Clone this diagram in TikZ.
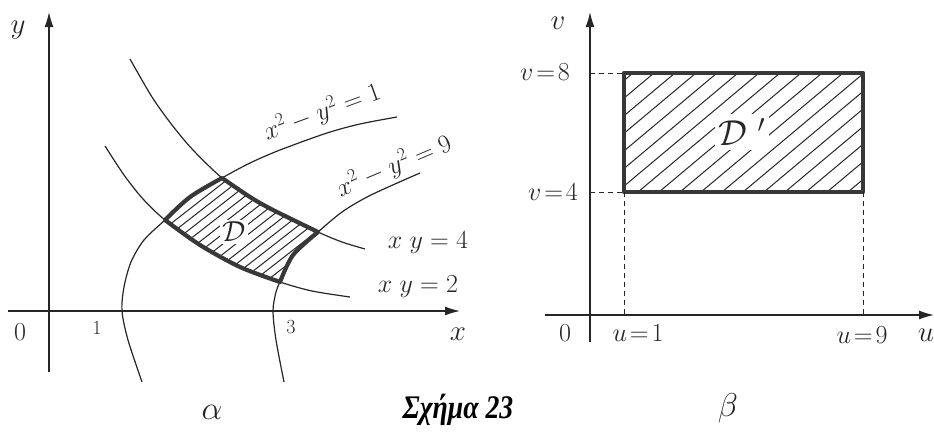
\RequirePackage{fix-cm}
\documentclass[tikz,border=0pt]{standalone}
\usepackage{fontspec}
\newfontfamily\capfont{Liberation Serif}
\usetikzlibrary{arrows.meta}
\begin{document}
\begin{tikzpicture}[x=1pt,y=-1pt,
  ink/.style={draw=black!85},
  axis/.style={ink, line width=1.4pt, -{Latex[length=15pt,width=9pt]}},
  curve/.style={ink, line width=1.2pt},
  bound/.style={draw=black!78, line width=4.2pt, line join=round},
  hatch/.style={ink, line width=1pt},
  dashline/.style={ink, line width=1pt, dash pattern=on 5pt off 4pt},
  lbl/.style={font=\fontsize{26}{30}\selectfont, text=black!85, inner sep=0pt},
  big/.style={font=\fontsize{29}{33}\selectfont, text=black!85, inner sep=0pt},
  greek/.style={font=\fontsize{33}{37}\selectfont, text=black!85, inner sep=0pt},
  small/.style={font=\fontsize{20}{24}\selectfont, text=black!85, inner sep=0pt},
  captext/.style={font=\capfont\bfseries\itshape\fontsize{33}{37}\selectfont, xscale=0.84, inner sep=0pt},
]
\useasboundingbox (0,0) rectangle (934,434);

% ---------------- left figure ----------------
\coordinate (xs) at (8,311);
\coordinate (xe) at (460,311);
\coordinate (ys) at (49,372);
\coordinate (ye) at (49,12);
\draw[axis] (xs) -- (xe);
\draw[axis] (ys) -- (ye);

% hatching of D
\begin{scope}
\clip plot[smooth] coordinates {(165,220) (190,197) (222,178)}
   -- plot[smooth] coordinates {(222,178) (250,197) (273,210) (318,232)}
   -- plot[smooth] coordinates {(318,232) (293,255) (280,282)}
   -- plot[smooth] coordinates {(280,282) (240,267) (200,245) (165,220)} -- cycle;
\foreach \i in {0,...,26} \draw[hatch] ({60+\i*13},300) -- ++(250,-195);
\end{scope}

% curves
\draw[curve] plot[smooth] coordinates {(142,382) (128,340) (122,311) (124,287) (131,262) (144,240) (165,220) (190,197) (222,178) (250,163) (280,150) (327,133) (360,124) (397,117)};
\draw[curve] plot[smooth] coordinates {(284,382) (276,340) (273,311) (276,292) (280,282) (293,255) (318,232) (342,212) (367,197) (395,184) (420,173)};
\draw[curve] plot[smooth] coordinates {(130,59) (152,97) (172,125) (193,150) (222,178) (250,197) (273,210) (318,232) (342,242) (365,249)};
\draw[curve] plot[smooth] coordinates {(105,146) (124,175) (143,199) (165,220) (200,245) (240,267) (280,282) (312,291) (350,297)};

% boundary of D
\draw[bound] plot[smooth] coordinates {(165,220) (190,197) (222,178)}
   -- plot[smooth] coordinates {(222,178) (250,197) (273,210) (318,232)}
   -- plot[smooth] coordinates {(318,232) (293,255) (280,282)}
   -- plot[smooth] coordinates {(280,282) (240,267) (200,245) (165,220)} -- cycle;

\node[big, fill=white, inner sep=2pt] (D) at (234,232) {$\mathcal{D}$};
\node[big] (ylab) at (18,30) {$y$};
\node[big] (xlab) at (458,334) {$x$};
\node[lbl] (O1) at (20,332) {$0$};
\node[small] (one) at (97,328) {$1$};
\node[small] (three) at (291,327) {$3$};
\node[lbl, rotate=20] (h1) at (322,112) {$x^2 - y^2 = 1$};
\node[lbl, rotate=23] (h9) at (394,166) {$x^2 - y^2 = 9$};
\node[lbl] (xy4) at (428,243) {$x\;y = 4$};
\node[lbl] (xy2) at (418,287) {$x\;y = 2$};

% ---------------- right figure ----------------
\coordinate (us) at (545,315);
\coordinate (ue) at (934,315);
\coordinate (vs) at (590,342);
\coordinate (ve) at (590,12);
\draw[axis] (us) -- (ue);
\draw[axis] (vs) -- (ve);

\coordinate (A) at (624,192);
\coordinate (B) at (863,192);
\coordinate (C) at (863,73);
\coordinate (E) at (624,73);
\begin{scope}
\clip (A) rectangle (C);
\foreach \i in {0,...,20} \draw[hatch] ({470+\i*21},192) -- ++(142,-119);
\end{scope}
\draw[bound] (A) -- (B) -- (C) -- (E) -- cycle;

\coordinate (v8) at (590,73);
\coordinate (v4) at (590,192);
\coordinate (u1) at (624,315);
\coordinate (u9) at (863,315);
\draw[dashline] (v8) -- (E);
\draw[dashline] (v4) -- (A);
\draw[dashline] (A) -- (u1);
\draw[dashline] (B) -- (u9);

\node[lbl, fill=white, inner sep=4pt] (Dp) at (742,132) {\fontsize{36}{40}\selectfont$\mathcal{D}\;'$};
\node[big] (vlab) at (558,23) {$v$};
\node[lbl] (v8l) at (545,72) {$v\!=\!8$};
\node[lbl] (v4l) at (553,192) {$v\!=\!4$};
\node[lbl] (O2) at (565,333) {$0$};
\node[lbl] (u1l) at (638,333) {$u\!=\!1$};
\node[lbl] (u9l) at (862,335) {$u\!=\!9$};
\node[big] (ulab) at (926,335) {$u$};

% ---------------- captions ----------------
\node[greek] (al) at (212,412) {$\alpha$};
\node[captext] (title) at (458,410) {Σχήμα 23};
\node[greek] (be) at (728,408) {$\beta$};
\end{tikzpicture}
\end{document}
